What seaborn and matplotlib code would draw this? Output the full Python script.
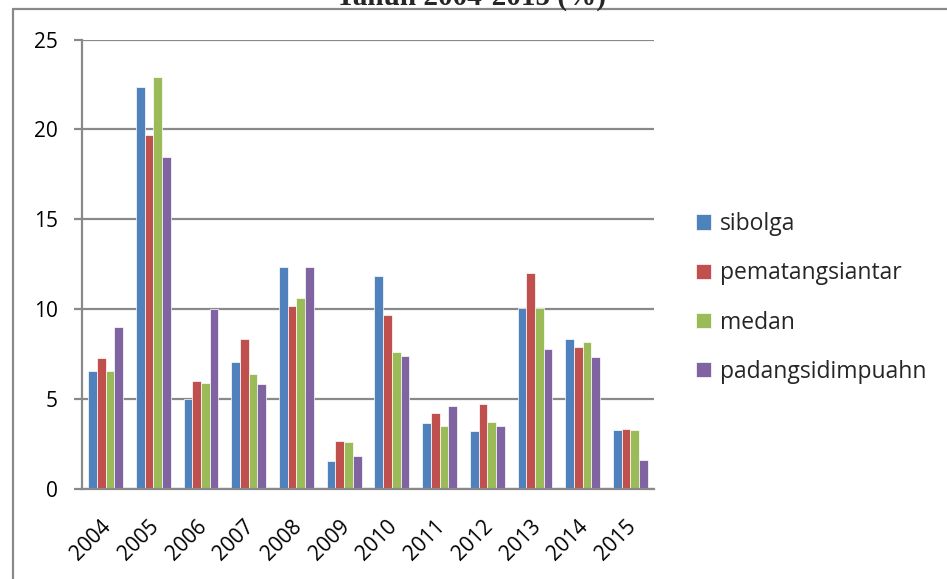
import matplotlib
matplotlib.use("Agg")
import matplotlib.pyplot as plt
from matplotlib.lines import Line2D
from matplotlib.transforms import ScaledTranslation
import numpy as np
import pandas as pd
import seaborn as sns

# Annual inflation (%) per city, 2004-2015
years = ["2004", "2005", "2006", "2007", "2008", "2009",
         "2010", "2011", "2012", "2013", "2014", "2015"]
cities = ["sibolga", "pematangsiantar", "medan", "padangsidimpuahn"]

sibolga = [6.6, 22.37, 5.02, 7.09, 12.37, 1.55, 11.83, 3.68, 3.26, 10.07, 8.35, 3.29]
pematangsiantar = [7.28, 19.68, 6.03, 8.35, 10.17, 2.68, 9.66, 4.22, 4.72, 12.0, 7.91, 3.33]
medan = [6.6, 22.92, 5.92, 6.41, 10.63, 2.65, 7.63, 3.52, 3.76, 10.07, 8.2, 3.29]
padangsidimpuahn = [9.0, 18.48, 10.02, 5.85, 12.33, 1.85, 7.39, 4.65, 3.52, 7.81, 7.35, 1.63]

yticks = [0, 5, 10, 15, 20, 25]
title = "Tahun 2004-2015 (%)"

palette = ["#4F81BD", "#C0504D", "#9BBB59", "#8064A2"]

df = pd.DataFrame({
    "year": years * 4,
    "city": sum([[c] * len(years) for c in cities], []),
    "value": sibolga + pematangsiantar + medan + padangsidimpuahn,
})

sns.set_theme(style="white")
plt.rcParams["font.family"] = ["Open Sans", "DejaVu Sans"]

fig = plt.figure(figsize=(9.47, 5.79), dpi=100)
ax = fig.add_axes([81.7 / 947, 1 - 489.3 / 579, (654.3 - 81.7) / 947, (489.3 - 39.5) / 579])

sns.barplot(data=df, x="year", y="value", hue="city", order=years,
            hue_order=cities, palette=palette, width=0.73, saturation=1,
            edgecolor="white", linewidth=0.5, ax=ax, legend=True)

grid_col = "#898989"
ax.set_ylim(0, 25)
ax.set_xlim(-0.5, len(years) - 0.5)
ax.set_yticks(yticks)
ax.set_yticklabels([str(t) for t in yticks])
ax.yaxis.grid(True, color=grid_col, linewidth=1.6)
ax.set_axisbelow(True)
ax.set_xlabel("")
ax.set_ylabel("")

for side in ["top", "right"]:
    ax.spines[side].set_visible(False)
for side in ["left", "bottom"]:
    ax.spines[side].set_color(grid_col)
    ax.spines[side].set_linewidth(1.6)

# category boundary ticks on the x axis, labels at the centres
ax.set_xticks(np.arange(len(years)))
ax.set_xticks(np.arange(len(years) + 1) - 0.5, minor=True)
ax.tick_params(axis="x", which="major", length=0, pad=19)
ax.tick_params(axis="x", which="minor", length=6, width=1.6, color=grid_col, direction="out")
ax.tick_params(axis="y", length=6, width=1.6, color=grid_col, direction="out", pad=11,
               labelsize=15, labelcolor="black", left=True)
shift = ScaledTranslation(-5 / 100, 0, fig.dpi_scale_trans)
for lab in ax.get_xticklabels():
    lab.set_rotation(45)
    lab.set_ha("right")
    lab.set_va("top")
    lab.set_rotation_mode("anchor")
    lab.set_fontsize(15)
    lab.set_color("black")
    lab.set_transform(lab.get_transform() + shift)

handles, labels = ax.get_legend_handles_labels()
ax.get_legend().remove()
fig.legend(handles, labels, loc="center left",
           bbox_to_anchor=(696 / 947, 1 - 298 / 579), frameon=False,
           fontsize=16.5, handlelength=0.65, handleheight=0.65,
           handletextpad=0.4, labelspacing=1.1, borderpad=0, borderaxespad=0)

# outer frame lines (left and top)
fig.add_artist(Line2D([13 / 947, 13 / 947], [0, 1 - 9 / 579], transform=fig.transFigure,
                      color=grid_col, linewidth=1.6))
fig.add_artist(Line2D([13 / 947, 1], [1 - 9 / 579, 1 - 9 / 579], transform=fig.transFigure,
                      color=grid_col, linewidth=1.6))

fig.text(471 / 947, 1 - 5 / 579, title, ha="center", va="baseline",
         fontsize=21, fontweight="bold", family=["Liberation Serif", "DejaVu Serif"])

fig.savefig("out.png", dpi=100)
